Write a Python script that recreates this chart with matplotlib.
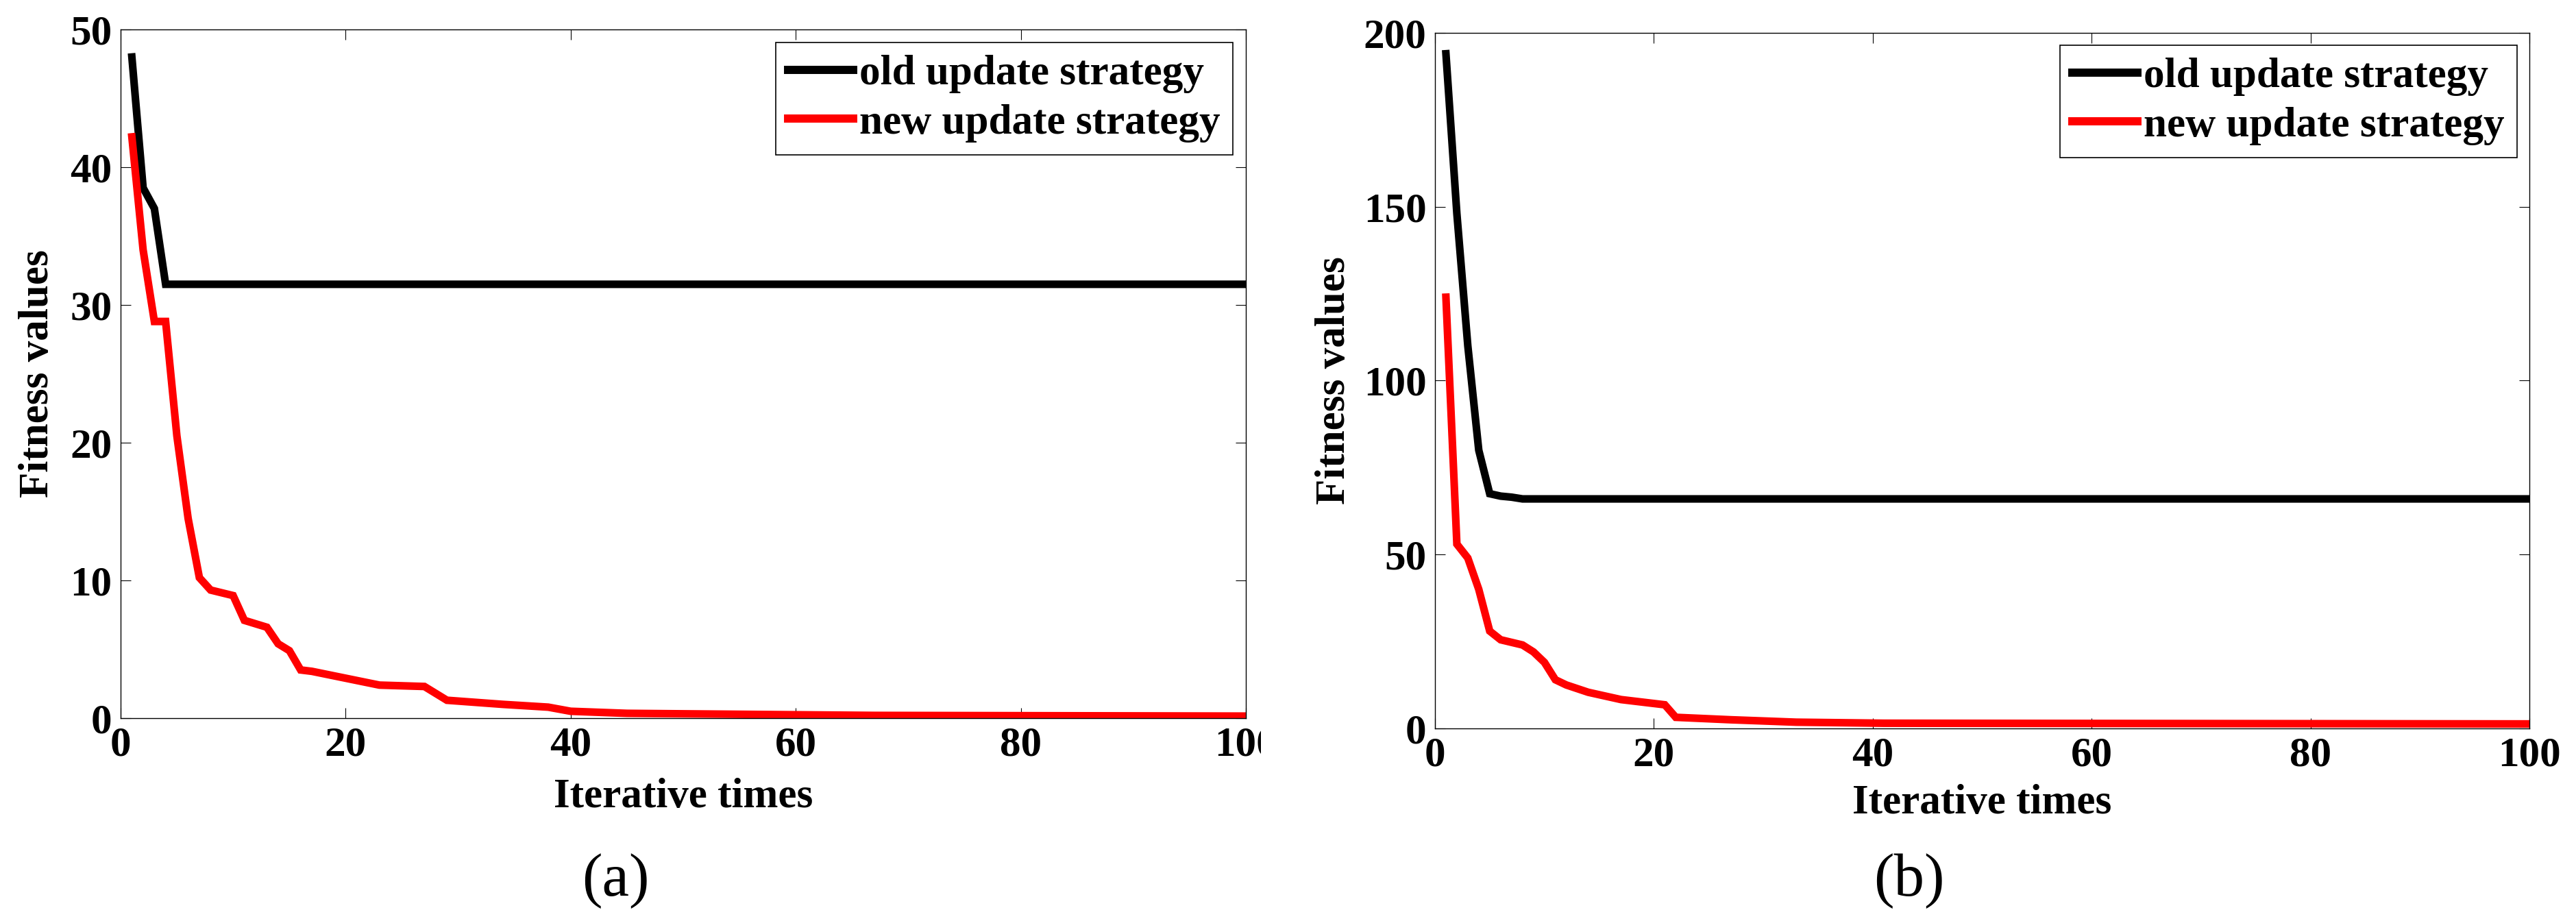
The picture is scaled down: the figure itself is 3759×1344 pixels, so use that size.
import matplotlib
matplotlib.use("Agg")
import matplotlib.pyplot as plt
from matplotlib.patches import Rectangle

# values (iteration, fitness)
a_old_x = [1, 2, 3, 4, 100]
a_old_y = [48, 38.5, 37, 31.5, 31.5]
a_new_x = [1, 2, 3, 4, 5, 6, 7, 8, 10, 11, 13, 14, 15, 16, 17, 20, 23, 27, 28, 29, 34, 38, 40, 45, 67, 100]
a_new_y = [42.2, 34, 28.8, 28.8, 20.5, 14.5, 10.2, 9.3, 8.9, 7.1, 6.6, 5.4, 4.9, 3.5, 3.4, 2.9, 2.4, 2.3, 1.8, 1.3, 1.0, 0.8, 0.5, 0.35, 0.2, 0.15]

b_old_x = [1, 2, 3, 4, 5, 6, 7, 8, 100]
b_old_y = [194, 148, 110, 80, 67.5, 66.8, 66.5, 66, 66]
b_new_x = [1, 2, 3, 4, 5, 6, 8, 9, 10, 11, 12, 14, 17, 21, 22, 27, 33, 41, 100]
b_new_y = [124, 53, 49, 40, 28, 25.5, 24, 22, 19, 14, 12.5, 10.4, 8.3, 6.8, 3.2, 2.5, 1.8, 1.5, 1.3]

a_yticks = [0, 10, 20, 30, 40, 50]
b_yticks = [0, 50, 100, 150, 200]
xticks = [0, 20, 40, 60, 80, 100]
labels = ["old update strategy", "new update strategy"]

plt.rcParams['font.family'] = ['Liberation Serif', 'DejaVu Serif']
plt.rcParams['font.weight'] = 'bold'
FS = 44

fig = plt.figure(figsize=(37.59, 13.44), dpi=100)
ax1 = fig.add_axes([0.04682, 0.22024, 0.43682, 0.74777])
ax2 = fig.add_axes([0.55706, 0.20908, 0.42485, 0.75521])


def setup(ax, yticks, ymax, ylab_x, xlab_y, leg_anchor):
    ax.set_xlim(0, 100)
    ax.set_ylim(0, ymax)
    ax.set_xticks(xticks)
    ax.set_yticks(yticks)
    ax.tick_params(direction='in', length=10.8, width=0.8, top=True, right=True,
                   labelsize=FS)
    ax.tick_params(axis='x', pad=8)
    ax.tick_params(axis='y', pad=9)
    for s in ax.spines.values():
        s.set_linewidth(1.0)
    ax.set_xlabel("Iterative times", fontsize=FS, fontweight='bold')
    ax.set_ylabel("Fitness values", fontsize=FS, fontweight='bold')
    ax.xaxis.label.set_va('center')
    ax.yaxis.label.set_va('center')
    ax.xaxis.set_label_coords(0.5, xlab_y)
    ax.yaxis.set_label_coords(ylab_x, 0.5)
    leg = ax.legend(labels, loc='upper right', bbox_to_anchor=leg_anchor,
                    borderaxespad=0, fancybox=False, framealpha=1,
                    edgecolor='black', fontsize=FS, handlelength=1.55,
                    handletextpad=0.15, labelspacing=0.25, borderpad=0.3)
    leg.get_frame().set_linewidth(1.2)
    for lh in leg.get_lines():
        lh.set_linewidth(8.6)


ax1.plot(a_old_x, a_old_y, color='black', lw=8, solid_joinstyle='miter')
ax1.plot(a_new_x, a_new_y, color='red', lw=8, solid_joinstyle='miter')
setup(ax1, a_yticks, 50, -0.0737, -0.1144, (0.9884, 0.981))

ax2.plot(b_old_x, b_old_y, color='black', lw=8, solid_joinstyle='miter')
ax2.plot(b_new_x, b_new_y, color='red', lw=8, solid_joinstyle='miter')
setup(ax2, b_yticks, 200, -0.092, -0.107, (0.9887, 0.9823))

# the left panel image was cut off through its last x tick label
fig.patches.append(Rectangle((1840 / 3759, 0.155), 150 / 3759, 0.055,
                             transform=fig.transFigure, facecolor='white',
                             edgecolor='none', zorder=10))

fig.text(0.2389, 0.0432, "(a)", fontsize=64, fontweight='normal',
         ha='center', va='center')
fig.text(0.7412, 0.0432, "(b)", fontsize=64, fontweight='normal',
         ha='center', va='center')

fig.savefig("out.png", dpi=100, facecolor='white')
